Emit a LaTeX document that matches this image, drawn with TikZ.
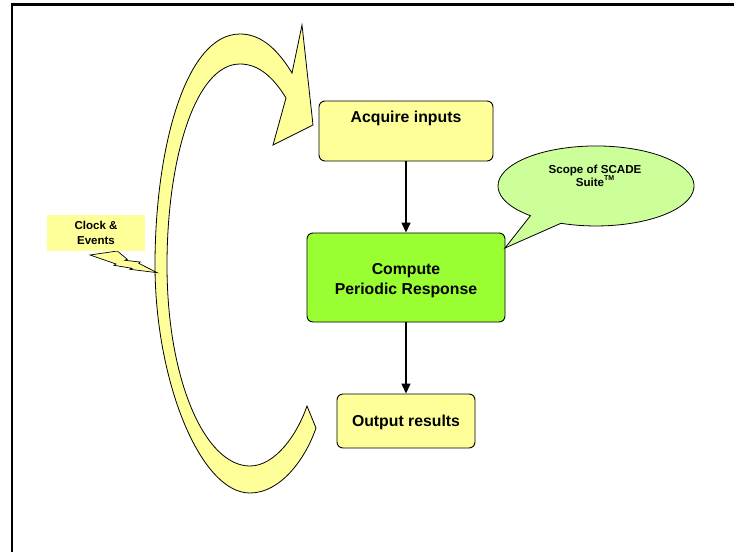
\documentclass[tikz,border=0pt]{standalone}
\usepackage{fontspec}
\setmainfont{Liberation Sans}
\usetikzlibrary{arrows.meta}
\definecolor{paleyellow}{HTML}{FFFF99}
\definecolor{limegreen}{HTML}{99FF33}
\definecolor{palegreen}{HTML}{CCFF99}

\begin{document}
\begin{tikzpicture}[x=1pt,y=-1pt,
  stepbox/.style={draw=black, line width=0.9pt, rounded corners=6pt, inner sep=0pt},
  boxtext/.style={font=\fontsize{15.8}{19.7}\selectfont\bfseries, align=center, inner sep=0pt},
  smalltext/.style={font=\fontsize{11.5}{15}\selectfont\bfseries, align=center, inner sep=0pt},
  flow/.style={line width=1.4pt, -{Triangle[length=10pt,width=9pt]}},
  outline/.style={draw=black, line width=0.8pt, line join=miter},
  ]
\useasboundingbox (0,0) rectangle (734,552);

% page frame (only top and left edges are visible)
\draw[line width=2.5pt] (12.2,552) -- (12.2,4.3) -- (734,4.3);

% cyclic execution arrow
\draw[outline, fill=paleyellow]
  (316,428) .. controls (305,460) and (280,493) .. (250,493)
  .. controls (200,493) and (155,380) .. (155,265)
  .. controls (155,150) and (185,34) .. (240,34)
  .. controls (258,34) and (275,45) .. (292,73)
  -- (302,25) -- (313,125) -- (273,145) -- (286,98)
  .. controls (272,75) and (257,64) .. (240,64)
  .. controls (195,64) and (167,160) .. (167,265)
  .. controls (167,380) and (205,466) .. (250,466)
  .. controls (275,466) and (297,435) .. (307,406)
  -- cycle;

% lightning bolt
\draw[outline, line width=0.7pt, fill=paleyellow]
  (90,255) -- (117.3,251) -- (127.3,259.3) -- (125,260.3) -- (140,262)
  -- (138.7,263.3) -- (157.3,272.7) -- (130,269.3) -- (132,268.3)
  -- (114,265.3) -- (116,264) -- cycle;

% clock label
\node[smalltext, fill=paleyellow, minimum width=98pt, minimum height=36pt] (clock) at (96,233)
  {Clock \&\\Events};

% process boxes
\node[stepbox, fill=paleyellow, minimum width=174pt, minimum height=60pt] (acq) at (406,131) {};
\node[boxtext] (acqtext) at (406,118.8) {Acquire inputs};

\node[stepbox, fill=limegreen, minimum width=198pt, minimum height=89pt] (comp) at (406,277.5) {};
\node[boxtext] (comptext) at (406,280.3) {Compute\\Periodic Response};

\node[stepbox, fill=paleyellow, minimum width=138pt, minimum height=54pt] (out) at (406,421) {};
\node[boxtext] (outtext) at (406,422.8) {Output results};

% flow arrows
\draw[flow] (acq.south) -- (comp.north);
\draw[flow] (comp.south) -- (out.north);

% scope callout
\draw[outline, fill=palegreen]
  (560.9,223.3) arc[start angle=111, end angle=-228, x radius=98, y radius=40]
  -- (505,248) -- cycle;
\node[font=\fontsize{11.6}{13}\selectfont\bfseries, align=center, inner sep=0pt] (scope) at (595,175.5)
  {Scope of SCADE\\Suite\raisebox{0.45em}{\fontsize{7}{7}\selectfont TM}};
\end{tikzpicture}
\end{document}
